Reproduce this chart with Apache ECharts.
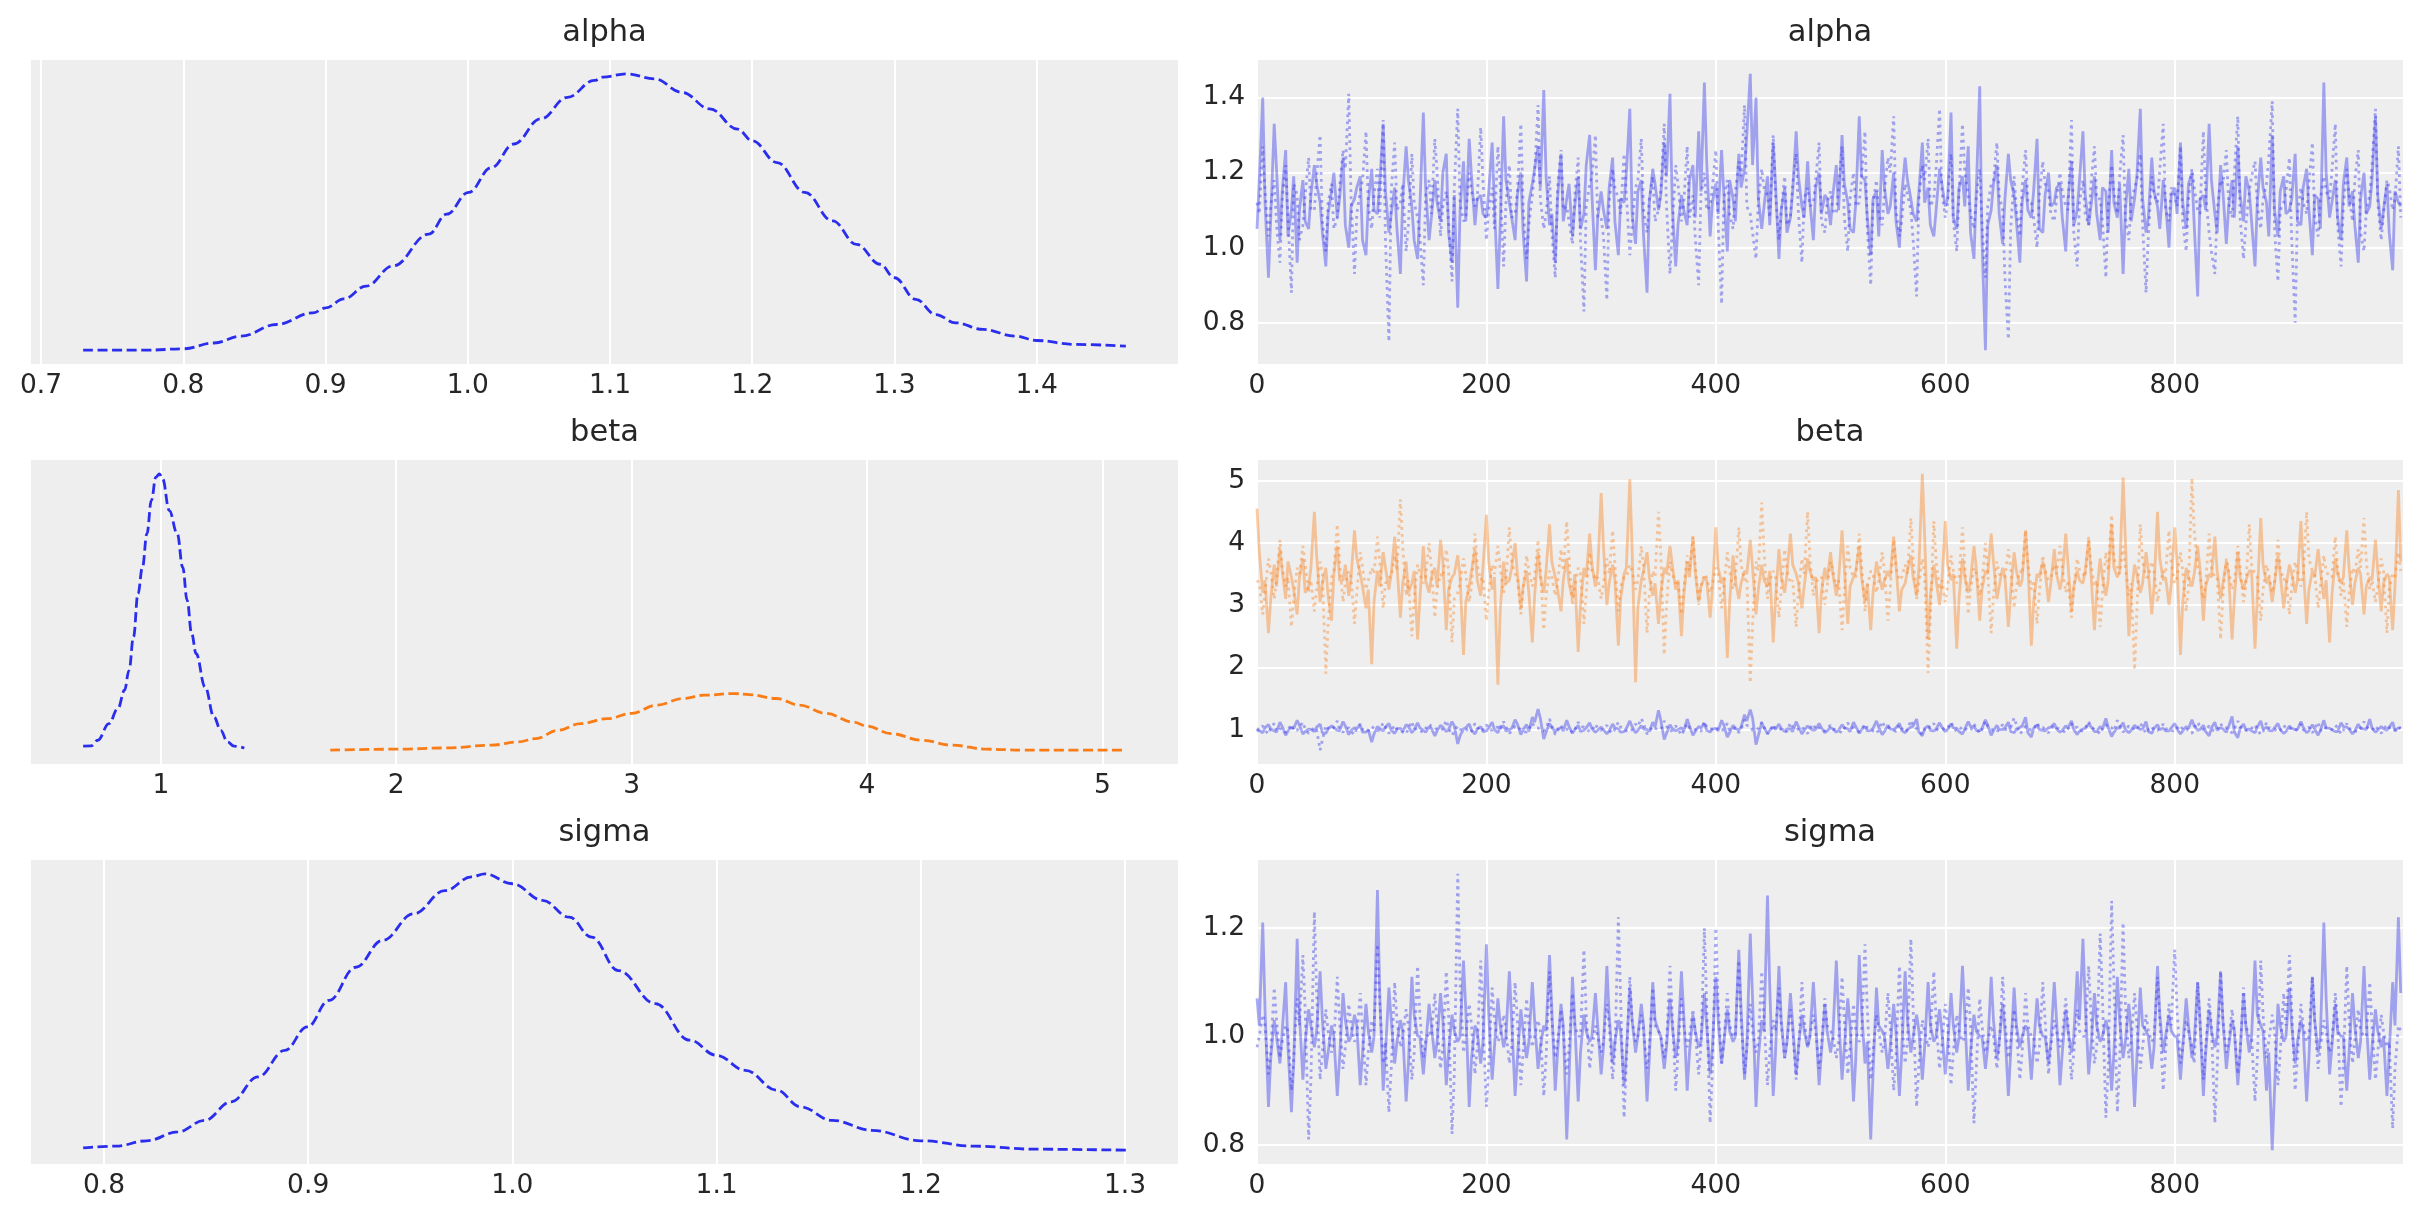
<!DOCTYPE html>
<html><head><meta charset="utf-8">
<script src="https://cdn.jsdelivr.net/npm/echarts@6/dist/echarts.min.js"></script>
<style>html,body{margin:0;padding:0;background:#fff}#c{width:2423px;height:1223px}</style>
</head><body><div id="c"></div>
<script>
// ---------- data ----------
const varNames = ['alpha', 'beta', 'sigma'];

// KDE curves (x = parameter value, y = density normalised to peak 1)
const alphaKdeX = [0.7296,0.7745,0.80,0.8217,0.8406,0.8657,0.8909,0.9003,0.9129,0.9286,0.9475,0.9726,0.9852,1.0006,1.0167,1.0324,1.0513,1.0701,1.089,1.095,1.1117,1.1312,1.1507,1.1702,1.1897,1.2,1.2175,1.237,1.2565,1.2733,1.29,1.30,1.315,1.329,1.343,1.3624,1.3847,1.40,1.4265,1.4627];
const alphaKdeY = [0,0,0.005,0.026,0.051,0.093,0.135,0.153,0.186,0.232,0.305,0.42,0.492,0.571,0.661,0.746,0.837,0.915,0.976,0.988,1.0,0.982,0.933,0.873,0.80,0.758,0.679,0.571,0.468,0.383,0.311,0.262,0.184,0.129,0.099,0.075,0.051,0.035,0.021,0.0145];

const beta0KdeX = [0.670,0.704,0.732,0.7797,0.8177,0.846,0.865,0.884,0.903,0.922,0.941,0.960,0.979,0.994,1.0076,1.036,1.070,1.093,1.112,1.131,1.150,1.188,1.226,1.2545,1.283,1.311,1.355];
const beta0KdeY = [0.0145,0.0157,0.036,0.096,0.151,0.217,0.289,0.41,0.566,0.662,0.783,0.904,0.988,1.0,0.982,0.867,0.783,0.662,0.542,0.422,0.349,0.229,0.12,0.072,0.03,0.0145,0.008];
const beta1KdeX = [1.72,2.0,2.2137,2.4036,2.5176,2.5935,2.688,2.7835,2.897,3.0,3.1064,3.22,3.307,3.437,3.50,3.615,3.713,3.826,3.94,4.0,4.102,4.232,4.362,4.508,4.67,5.10];
const beta1KdeY = [0,0.0036,0.008,0.018,0.03,0.042,0.072,0.096,0.114,0.133,0.163,0.187,0.199,0.205,0.201,0.187,0.163,0.133,0.102,0.087,0.06,0.036,0.018,0.0036,0,0];

const sigmaKdeX = [0.7898,0.8057,0.8209,0.8362,0.8492,0.8623,0.8754,0.8885,0.8996,0.9102,0.9233,0.9364,0.9516,0.9669,0.98,0.9865,1.0,1.0148,1.0279,1.0388,1.0519,1.07,1.0868,1.1,1.114,1.1295,1.141,1.1566,1.176,1.2,1.2264,1.2554,1.3004];
const sigmaKdeY = [0.0083,0.0145,0.034,0.066,0.108,0.175,0.265,0.361,0.446,0.542,0.662,0.759,0.855,0.939,0.989,1.0,0.964,0.904,0.843,0.771,0.65,0.53,0.398,0.343,0.289,0.217,0.157,0.108,0.072,0.034,0.0145,0.0036,0];

// Trace samples. "*ChainN" arrays hold draws 0,5,10,...; "*ChainNMid" hold draws 2,7,12,...
// chain 0 = solid line, chain 1 = dotted line
const drawStep = 5;
const midOffset = 2;
const nDraws = 1000;

const alphaChain0 = [
1.05,1.40,0.92,1.33,1.02,1.26,1.10,0.96,1.18,1.05,1.22,1.12,0.95,1.15,1.08,1.24,1.00,1.13,1.19,0.98,
1.21,1.09,1.33,1.04,1.16,0.93,1.27,1.11,0.97,1.36,1.02,1.18,1.07,1.25,0.96,0.84,1.23,1.29,1.06,1.14,
1.08,1.28,0.89,1.35,1.12,1.02,1.20,0.91,1.17,1.27,1.42,1.06,0.96,1.25,1.13,1.03,1.19,1.09,1.30,0.94,
1.15,1.05,1.24,0.98,1.12,1.37,1.01,1.18,0.88,1.21,1.10,1.28,1.41,0.95,1.14,1.06,1.22,1.31,1.44,1.03,
1.17,1.26,0.99,1.13,1.25,1.21,1.463,1.40,1.05,1.19,1.28,0.97,1.16,1.08,1.31,1.11,1.23,1.02,1.20,1.14,
1.06,1.22,1.30,1.12,1.04,1.35,1.18,0.98,1.15,1.26,1.09,1.20,1.00,1.24,1.13,1.07,1.28,1.16,1.03,1.21,
1.11,1.36,1.05,1.19,1.27,0.97,1.43,0.727,1.10,1.22,1.01,1.25,1.14,0.96,1.18,1.08,1.29,1.04,1.20,1.12,
1.17,0.99,1.23,1.10,1.31,1.06,1.19,1.02,1.15,1.26,1.08,0.93,1.21,1.13,1.37,1.04,1.24,1.11,1.18,1.00,
1.16,1.28,1.05,1.20,0.87,1.14,1.33,1.09,1.22,1.01,1.18,1.27,1.07,1.15,0.95,1.24,1.12,1.30,1.03,1.19,
1.10,1.25,1.06,1.21,0.98,1.13,1.44,1.08,1.18,1.02,1.24,1.15,0.96,1.20,1.11,1.35,1.05,1.17,0.94,1.12];
const alphaChain0Mid = [
1.18,1.12,1.08,1.21,1.15,1.03,1.19,1.10,1.07,1.14,1.17,1.04,1.09,1.20,1.13,1.06,1.11,1.16,1.02,1.12,
1.10,1.17,1.15,1.09,1.05,1.13,1.18,1.02,1.11,1.16,1.08,1.12,1.20,1.04,1.14,1.10,1.07,1.19,1.13,1.09,
1.15,1.11,1.06,1.18,1.08,1.14,1.04,1.12,1.21,1.16,1.19,1.09,1.13,1.07,1.17,1.11,1.05,1.22,1.14,1.08,
1.10,1.16,1.07,1.13,1.20,1.09,1.15,1.03,1.12,1.17,1.14,1.19,1.11,1.06,1.10,1.18,1.08,1.15,1.23,1.12,
1.09,1.14,1.18,1.07,1.16,1.30,1.22,1.13,1.11,1.06,1.17,1.10,1.04,1.15,1.19,1.08,1.12,1.16,1.09,1.13,
1.14,1.10,1.17,1.05,1.12,1.19,1.08,1.13,1.03,1.16,1.11,1.07,1.14,1.18,1.09,1.15,1.12,1.06,1.10,1.17,
1.13,1.08,1.16,1.11,1.04,1.15,1.02,1.06,1.17,1.09,1.13,1.18,1.07,1.12,1.10,1.15,1.05,1.14,1.11,1.16,
1.08,1.13,1.06,1.18,1.14,1.11,1.09,1.16,1.04,1.12,1.17,1.10,1.07,1.19,1.13,1.08,1.15,1.05,1.12,1.14,
1.09,1.12,1.17,1.06,1.13,1.10,1.18,1.04,1.15,1.11,1.08,1.14,1.19,1.07,1.12,1.16,1.03,1.10,1.15,1.09,
1.13,1.07,1.16,1.10,1.14,1.05,1.20,1.12,1.08,1.17,1.11,1.06,1.13,1.09,1.18,1.14,1.10,1.04,1.15,1.11];
const alphaChain1 = [
1.12,1.27,1.03,1.18,0.96,1.22,0.88,1.14,1.06,1.24,1.10,1.30,0.99,1.17,1.08,1.26,1.41,0.93,1.15,1.31,
1.05,1.21,1.34,0.75,1.28,1.12,0.99,1.25,1.08,0.90,1.18,1.29,1.03,1.15,0.91,1.37,1.07,1.20,1.11,1.32,
1.02,1.16,1.27,0.95,1.22,1.09,1.33,0.97,1.14,1.38,1.05,1.19,0.92,1.26,1.11,1.01,1.24,0.83,1.17,1.30,
1.08,0.86,1.21,1.13,1.25,0.98,1.16,1.29,1.04,1.19,1.10,1.33,0.93,1.22,1.07,1.27,1.14,0.90,1.20,1.11,
1.26,0.85,1.18,1.05,1.23,1.38,1.09,0.97,1.21,1.14,1.30,1.02,1.19,1.08,1.25,0.96,1.16,1.12,1.28,1.04,
1.15,1.09,1.27,0.99,1.20,1.12,1.31,0.90,1.18,1.06,1.24,1.35,1.03,1.17,1.10,0.87,1.22,1.29,1.13,1.37,
1.08,1.25,0.99,1.33,1.14,1.05,1.21,0.92,1.17,1.28,1.10,0.756,1.19,1.03,1.26,1.12,1.00,1.23,1.15,1.07,
1.20,1.11,1.34,0.95,1.18,1.06,1.27,1.13,0.92,1.22,1.09,1.30,1.02,1.16,1.25,0.88,1.19,1.12,1.33,1.07,
1.14,1.27,0.99,1.21,1.10,1.31,1.04,0.93,1.18,1.26,1.08,1.35,0.97,1.15,1.23,1.05,1.17,1.39,0.91,1.12,
1.24,0.80,1.16,1.09,1.28,1.03,1.19,1.13,1.33,0.95,1.21,1.07,1.26,0.99,1.14,1.37,1.02,1.18,1.10,1.27];
const alphaChain1Mid = [
1.09,1.15,1.11,1.06,1.13,1.08,1.17,1.02,1.14,1.10,1.19,1.07,1.12,1.05,1.16,1.21,1.13,1.09,1.18,1.11,
1.14,1.08,1.02,1.15,1.10,1.17,1.06,1.12,1.03,1.14,1.09,1.20,1.11,1.07,1.16,1.12,1.08,1.15,1.13,1.18,
1.10,1.05,1.17,1.12,1.08,1.15,1.11,1.06,1.20,1.13,1.09,1.04,1.16,1.10,1.07,1.14,1.02,1.11,1.19,1.08,
1.03,1.12,1.16,1.09,1.14,1.06,1.18,1.10,1.13,1.07,1.15,1.11,1.05,1.17,1.12,1.08,1.03,1.14,1.10,1.16,
1.06,1.13,1.09,1.15,1.19,1.11,1.04,1.12,1.16,1.08,1.14,1.10,1.06,1.17,1.09,1.13,1.11,1.18,1.07,1.12,
1.10,1.16,1.08,1.13,1.11,1.19,1.05,1.12,1.09,1.15,1.20,1.10,1.07,1.14,1.02,1.13,1.18,1.11,1.21,1.15,
1.12,1.07,1.15,1.20,1.09,1.13,1.06,1.11,1.18,1.14,0.92,1.05,1.10,1.16,1.12,1.08,1.14,1.17,1.09,1.13,
1.15,1.10,1.04,1.12,1.09,1.17,1.13,1.07,1.11,1.15,1.19,1.08,1.12,1.18,1.06,1.03,1.14,1.21,1.10,1.16,
1.11,1.07,1.13,1.16,1.09,1.14,0.99,1.10,1.17,1.12,1.20,1.08,1.06,1.19,1.11,1.13,1.24,1.05,1.10,1.15,
1.02,1.09,1.12,1.17,1.08,1.13,1.15,1.20,1.06,1.11,1.14,1.18,1.04,1.10,1.22,1.12,1.09,1.16,1.13,1.08];

const beta0Chain0 = [
1.02,0.95,1.08,0.98,1.12,0.91,1.04,1.15,0.93,1.01,0.97,1.09,0.94,1.06,0.99,1.13,0.92,1.03,1.07,0.96,
0.80,1.05,0.98,1.10,0.94,1.02,1.08,0.95,1.11,0.99,1.04,0.90,1.07,0.97,1.13,0.77,1.01,1.09,0.93,1.05,
0.98,1.12,0.95,1.06,1.00,1.16,0.92,1.08,1.20,1.33,0.85,1.10,0.97,1.03,1.15,0.94,1.07,0.99,1.11,0.96,
1.04,0.93,1.09,1.01,0.97,1.14,0.95,1.06,1.00,1.12,1.31,0.84,1.08,0.98,1.03,1.17,0.91,1.05,1.10,0.96,
1.02,1.15,0.88,1.07,0.99,1.24,1.32,0.76,1.11,0.94,1.04,1.09,0.97,1.01,1.13,0.93,1.06,0.99,1.10,0.95,
1.03,0.96,1.08,1.01,1.12,0.94,1.05,0.99,1.14,0.92,1.07,1.00,1.10,0.95,1.04,1.17,0.90,1.06,0.98,1.11,
0.97,1.09,1.02,0.93,1.13,1.05,0.98,1.16,0.91,1.07,1.00,1.12,0.95,1.04,1.20,0.88,1.08,0.99,1.03,1.10,
0.96,1.06,1.14,0.92,1.01,1.09,0.97,1.05,1.18,0.89,1.03,1.11,0.95,1.07,1.00,1.13,0.94,1.08,1.02,0.98,
1.10,0.93,1.05,1.16,0.99,1.07,0.90,1.12,1.03,0.96,1.21,0.87,1.09,1.01,0.95,1.14,1.04,0.98,1.10,0.94,
1.06,1.00,1.13,0.95,1.08,0.91,1.15,1.02,0.97,1.11,1.04,0.93,1.09,1.01,1.17,0.96,1.05,0.99,1.12,1.03];
const beta0Chain0Mid = [
0.99,1.03,1.01,0.96,1.05,0.98,1.02,1.07,0.97,1.00,1.04,0.95,1.01,1.03,0.98,1.06,0.99,1.02,0.96,1.00,
0.93,1.02,1.04,0.99,1.01,0.97,1.05,1.00,1.03,0.96,1.02,0.98,1.04,1.00,1.06,0.90,1.03,0.99,1.01,0.97,
1.03,1.00,1.05,0.98,1.02,1.09,1.00,0.97,1.12,1.18,0.96,1.03,1.01,0.98,1.05,1.00,0.97,1.03,1.01,0.99,
1.00,0.98,1.03,0.96,1.02,1.05,0.99,1.01,0.97,1.04,1.15,0.94,1.02,1.00,0.98,1.06,0.97,1.03,0.99,1.01,
0.98,1.07,0.95,1.02,1.04,1.14,1.19,0.90,1.03,0.99,1.00,1.02,1.01,0.97,1.05,0.99,1.02,1.00,1.03,0.98,
1.01,0.99,1.03,0.97,1.05,1.00,0.98,1.02,1.04,0.97,1.01,1.03,0.99,1.00,1.06,0.96,1.02,0.99,1.01,1.04,
1.00,1.03,0.97,1.01,1.05,0.99,1.02,1.07,0.98,1.00,1.03,0.97,1.01,1.06,0.95,1.02,1.00,0.98,1.04,1.01,
0.99,1.03,1.00,0.98,1.02,1.05,0.97,1.01,1.04,0.96,1.02,1.00,0.99,1.03,1.01,0.97,1.02,1.00,0.98,1.03,
1.01,0.98,1.02,1.06,1.00,0.97,1.03,0.99,1.01,1.05,0.96,1.02,1.00,0.98,1.04,1.01,0.99,1.03,1.00,0.97,
1.02,1.00,1.04,0.98,1.01,0.99,1.03,1.00,0.97,1.05,1.01,0.98,1.02,1.00,1.03,0.99,1.01,1.04,0.98,1.02];
const beta0Chain1 = [
0.97,1.06,0.93,1.10,1.01,0.95,1.08,0.99,1.12,0.94,1.04,0.67,1.07,1.00,1.14,0.96,1.03,0.92,1.09,1.02,
1.05,0.98,1.11,0.94,1.07,1.00,0.93,1.13,1.02,0.96,1.09,1.04,0.99,1.15,0.91,1.06,1.01,0.95,1.10,0.97,
1.08,0.99,1.04,1.13,0.94,1.06,1.01,0.96,1.11,1.03,0.98,1.17,0.92,1.07,1.00,0.95,1.12,1.04,0.97,1.09,
0.99,1.07,0.94,1.12,1.02,0.96,1.09,1.18,0.93,1.05,1.00,1.14,0.97,1.06,0.91,1.10,1.03,0.98,1.13,1.01,
1.04,0.97,1.10,1.01,0.95,1.16,1.06,0.99,1.12,0.93,1.08,1.02,0.96,1.11,1.00,1.05,0.94,1.09,1.03,0.98,
1.07,1.00,0.95,1.11,1.03,0.97,1.09,1.02,0.94,1.13,1.05,0.99,1.08,0.96,1.15,1.01,0.92,1.06,1.10,0.98,
1.03,1.12,0.97,1.05,1.00,1.09,0.94,1.14,1.02,0.96,1.08,1.01,1.19,0.93,1.06,0.99,1.11,1.04,0.95,1.07,
1.01,0.95,1.10,1.04,0.98,1.13,1.00,0.93,1.08,1.03,1.15,0.96,1.06,1.01,1.11,0.94,1.05,0.99,1.09,1.02,
0.97,1.07,1.02,0.94,1.12,1.00,1.06,0.97,1.10,1.03,0.95,1.14,1.04,0.98,1.08,0.92,1.11,1.01,0.96,1.07,
1.03,0.98,1.09,1.01,0.95,1.12,1.05,0.99,1.07,0.93,1.10,1.02,0.97,1.13,1.00,1.06,0.94,1.08,1.03,1.05];
const beta0Chain1Mid = [
1.01,0.99,1.03,0.97,1.02,1.00,0.98,1.04,1.01,0.97,1.00,0.83,1.02,1.04,0.99,1.01,0.97,1.03,1.00,0.98,
1.02,1.00,1.04,0.98,1.01,0.96,1.03,1.00,0.98,1.02,1.05,0.99,1.01,1.03,0.97,1.00,1.02,0.98,1.04,1.00,
1.01,1.03,0.99,1.05,0.98,1.02,0.97,1.01,1.04,0.99,1.02,1.06,0.98,1.00,1.03,0.99,1.05,1.01,0.98,1.02,
1.03,0.99,1.01,1.04,0.98,1.00,1.05,1.09,0.97,1.02,1.00,1.06,0.99,1.01,0.98,1.03,1.00,0.97,1.04,1.01,
1.00,1.02,0.98,1.03,1.01,1.07,0.99,1.02,1.04,0.98,1.01,1.00,0.97,1.03,1.01,0.99,1.02,1.00,0.98,1.03,
1.01,0.98,1.02,1.04,0.99,1.01,1.03,0.98,1.00,1.05,1.01,0.97,1.02,1.00,1.06,0.98,1.00,1.03,1.01,0.99,
1.02,1.04,0.99,1.01,0.98,1.03,1.00,1.05,0.98,1.02,1.00,1.03,1.08,0.97,1.02,1.00,1.04,0.99,1.01,1.03,
0.99,1.01,1.03,0.98,1.02,1.05,0.99,1.01,1.03,0.98,1.06,1.00,1.02,0.99,1.04,1.00,0.98,1.02,1.01,0.99,
1.02,1.00,0.98,1.03,1.05,0.99,1.01,1.00,1.03,0.98,1.01,1.04,0.99,1.02,1.00,0.97,1.03,1.01,0.99,1.02,
1.00,1.02,0.99,1.04,1.01,0.98,1.02,1.00,1.03,0.99,1.01,0.98,1.02,1.05,0.99,1.01,1.00,1.03,0.99,1.02];

const beta1Chain0 = [
4.55,3.20,2.55,3.65,3.90,3.10,3.45,2.85,3.75,3.30,4.50,3.05,3.60,2.75,3.95,3.40,3.15,4.20,3.50,2.95,
2.05,3.55,3.85,3.25,4.10,2.80,3.70,3.35,2.45,3.95,3.20,3.60,4.05,2.60,3.45,3.80,2.20,3.30,3.90,3.15,
4.45,3.25,1.72,3.70,3.40,4.00,2.95,3.55,2.40,3.85,3.20,4.30,3.45,2.90,3.75,3.10,2.25,3.60,4.15,3.30,
4.80,3.00,3.65,2.35,3.50,5.02,1.76,3.40,3.85,3.15,2.70,3.60,3.95,3.25,2.50,3.70,4.10,3.05,3.45,2.80,
4.25,3.35,2.15,3.80,3.10,3.55,4.05,2.85,3.65,3.30,2.40,3.90,3.20,4.15,3.50,2.95,3.75,3.40,2.55,3.60,
3.85,3.15,4.20,2.70,3.45,3.95,3.05,2.60,3.70,3.25,3.55,4.10,2.90,3.35,3.80,3.15,5.11,2.45,3.65,3.00,
4.35,3.40,2.30,3.75,3.20,3.95,2.75,3.55,4.15,3.10,3.60,2.65,3.85,3.30,4.20,2.35,3.50,3.70,3.05,3.90,
3.25,4.15,2.90,3.55,3.35,4.05,2.60,3.75,3.15,4.30,3.45,5.05,2.50,3.65,3.20,3.85,2.85,4.50,3.40,3.00,
4.25,2.20,3.60,3.30,3.95,2.75,3.50,4.10,3.10,3.70,2.45,3.85,3.25,3.55,2.30,4.40,3.35,3.05,3.80,2.95,
3.65,3.20,4.35,2.70,3.55,3.90,3.10,2.40,3.75,3.35,4.20,3.00,3.60,2.85,3.45,4.05,2.90,3.50,2.60,4.85];
const beta1Chain0Mid = [
3.85,3.40,3.10,3.30,3.55,3.70,3.25,3.45,3.20,3.60,3.80,3.35,3.15,3.50,3.40,3.65,3.45,3.75,3.30,3.25,
3.05,3.30,3.60,3.50,3.65,3.35,3.20,3.55,3.10,3.40,3.45,3.30,3.70,3.25,3.50,3.45,3.05,3.55,3.40,3.60,
3.70,3.45,2.90,3.35,3.60,3.50,3.30,3.20,3.15,3.45,3.55,3.70,3.25,3.40,3.35,3.50,3.00,3.45,3.65,3.55,
3.95,3.35,3.40,3.10,3.60,3.90,2.95,3.55,3.45,3.35,3.20,3.50,3.65,3.40,3.15,3.45,3.55,3.30,3.40,3.25,
3.60,3.45,3.05,3.40,3.35,3.50,3.60,3.25,3.40,3.55,3.10,3.45,3.50,3.65,3.35,3.30,3.55,3.45,3.20,3.40,
3.50,3.40,3.60,3.30,3.55,3.45,3.35,3.20,3.50,3.40,3.45,3.65,3.25,3.55,3.45,3.60,4.10,3.15,3.40,3.35,
3.65,3.50,3.10,3.45,3.40,3.60,3.25,3.50,3.70,3.30,3.45,3.20,3.55,3.40,3.65,3.05,3.45,3.55,3.35,3.50,
3.45,3.65,3.30,3.40,3.55,3.50,3.20,3.45,3.40,3.60,3.55,4.05,3.15,3.50,3.35,3.55,3.30,3.75,3.45,3.35,
3.70,3.05,3.45,3.50,3.60,3.30,3.45,3.55,3.35,3.50,3.10,3.45,3.40,3.55,3.15,3.65,3.45,3.35,3.50,3.30,
3.50,3.40,3.65,3.25,3.45,3.55,3.40,3.15,3.50,3.45,3.60,3.35,3.50,3.30,3.40,3.55,3.35,3.45,3.30,3.70];
const beta1Chain1 = [
3.40,2.85,3.75,3.10,4.05,3.30,2.65,3.60,3.95,3.20,2.90,3.70,1.90,3.45,4.30,3.05,3.55,2.70,3.85,3.25,
3.60,4.10,2.95,3.45,3.80,4.70,3.15,2.50,3.65,3.35,4.00,2.80,3.50,3.90,2.40,3.20,3.75,3.05,4.15,3.40,
2.75,3.65,3.95,3.20,4.25,3.50,2.85,3.80,3.30,4.05,2.60,3.55,3.15,3.90,4.35,3.00,3.60,2.70,3.85,3.40,
3.10,3.75,4.20,2.90,3.45,3.65,3.25,3.95,2.55,3.55,4.50,2.20,3.70,3.35,2.85,3.80,4.10,3.00,3.50,3.20,
3.60,2.95,3.85,3.25,4.25,3.40,1.75,3.70,4.65,3.10,3.55,2.80,3.90,3.35,2.65,3.75,4.50,3.15,3.45,3.00,
3.70,3.30,2.60,3.95,3.45,4.15,2.90,3.55,3.20,3.85,2.75,4.05,3.40,3.65,4.40,3.10,3.75,1.91,4.35,3.25,
3.05,3.80,3.35,4.25,2.85,3.60,3.15,4.00,2.55,3.70,3.45,3.90,2.95,3.55,4.20,3.25,2.70,3.80,3.40,3.65,
3.95,3.20,2.80,3.75,3.50,4.10,3.30,2.65,3.85,4.45,3.60,3.95,3.15,1.96,4.30,3.45,3.70,3.05,3.55,4.20,
3.35,3.85,2.90,5.04,3.60,3.10,4.15,3.45,2.45,3.75,3.25,3.95,3.05,4.30,3.50,2.75,3.65,3.20,4.05,3.40,
2.85,3.70,3.30,4.50,3.55,2.95,3.80,3.45,4.10,3.15,2.65,3.60,3.90,4.40,3.25,3.05,3.75,2.55,3.50,3.85];
const beta1Chain1Mid = [
3.35,3.20,3.55,3.40,3.60,3.45,3.10,3.50,3.65,3.40,3.25,3.50,2.70,3.55,3.70,3.35,3.45,3.20,3.60,3.40,
3.50,3.70,3.35,3.45,3.55,3.95,3.40,3.10,3.50,3.45,3.60,3.25,3.45,3.55,3.10,3.35,3.50,3.30,3.65,3.45,
3.20,3.50,3.60,3.40,3.70,3.45,3.25,3.55,3.45,3.60,3.15,3.45,3.35,3.55,3.75,3.30,3.50,3.20,3.55,3.45,
3.35,3.50,3.65,3.30,3.45,3.55,3.40,3.60,3.15,3.45,3.80,3.00,3.50,3.40,3.25,3.55,3.65,3.30,3.45,3.35,
3.50,3.30,3.55,3.40,3.65,3.45,2.70,3.55,3.85,3.40,3.45,3.25,3.55,3.40,3.20,3.50,3.75,3.35,3.45,3.30,
3.55,3.40,3.20,3.60,3.45,3.65,3.30,3.50,3.40,3.55,3.25,3.60,3.45,3.50,3.75,3.35,3.50,2.80,3.70,3.40,
3.30,3.55,3.45,3.65,3.25,3.50,3.35,3.55,3.15,3.50,3.45,3.60,3.30,3.50,3.65,3.40,3.20,3.55,3.45,3.50,
3.60,3.40,3.25,3.55,3.45,3.65,3.40,3.20,3.55,3.75,3.50,3.60,3.35,2.90,3.70,3.45,3.55,3.30,3.50,3.65,
3.45,3.55,3.30,4.20,3.50,3.35,3.60,3.45,3.15,3.55,3.40,3.60,3.30,3.65,3.45,3.25,3.50,3.35,3.60,3.45,
3.30,3.55,3.45,3.75,3.50,3.30,3.55,3.45,3.60,3.40,3.20,3.50,3.60,3.70,3.40,3.30,3.55,3.25,3.45,3.55];

const sigmaChain0 = [
1.07,1.21,0.87,1.03,0.95,1.10,0.86,1.18,0.92,1.05,0.98,1.12,0.94,1.02,0.89,1.08,0.99,1.04,0.91,1.06,
0.97,1.27,0.90,1.09,0.95,1.03,0.88,1.11,1.00,0.93,1.06,0.96,1.08,0.91,1.04,0.99,1.14,0.87,1.02,0.95,
1.17,0.92,1.07,0.98,1.12,0.89,1.05,0.96,1.10,0.94,1.02,1.15,0.90,1.06,0.81,1.11,0.88,1.04,0.99,1.08,
0.93,1.13,0.95,1.03,0.91,1.09,0.97,1.06,0.88,1.10,1.01,0.94,1.07,0.96,1.12,0.90,1.04,0.98,1.08,0.93,
1.11,0.95,1.05,0.99,1.16,0.92,1.19,0.87,1.03,1.26,0.89,1.13,0.96,1.08,0.93,1.04,0.98,1.10,0.91,1.06,
0.97,1.14,0.92,1.07,0.88,1.15,0.95,0.81,1.09,1.01,0.94,1.06,0.89,1.12,0.97,1.04,0.92,1.10,0.99,1.05,
0.93,1.08,0.97,1.13,0.90,1.04,1.00,0.94,1.11,0.96,1.06,0.89,1.09,0.98,1.02,0.92,1.07,1.00,0.95,1.10,
0.91,1.05,0.97,1.12,1.18,0.93,1.08,0.99,1.03,0.90,1.11,0.96,1.06,0.87,1.09,1.01,0.94,1.13,0.97,1.04,
1.00,0.92,1.07,0.96,1.10,0.89,1.05,0.98,1.12,0.94,1.03,0.91,1.08,0.97,1.14,1.02,0.90,0.79,1.06,0.99,
1.09,0.95,1.03,0.88,1.11,0.97,1.21,0.93,1.06,1.00,0.90,1.08,0.96,1.13,0.92,1.05,0.98,0.89,1.10,1.22];
const sigmaChain0Mid = [
1.02,1.05,0.96,1.00,1.01,0.98,0.95,1.04,0.99,1.02,1.01,1.03,0.97,1.00,0.96,1.03,1.00,1.02,0.97,1.01,
1.00,1.08,0.97,1.03,0.99,1.01,0.95,1.04,1.00,0.98,1.02,0.99,1.03,0.97,1.01,1.00,1.05,0.96,1.01,0.99,
1.04,0.98,1.02,1.00,1.03,0.96,1.01,0.99,1.03,0.98,1.01,1.05,0.97,1.02,0.92,1.03,0.97,1.01,1.00,1.02,
0.98,1.04,0.99,1.01,0.97,1.03,1.00,1.02,0.96,1.03,1.00,0.98,1.02,0.99,1.04,0.97,1.01,0.99,1.02,0.98,
1.03,0.99,1.01,1.00,1.05,0.98,1.07,0.96,1.01,1.09,0.97,1.03,0.99,1.02,0.98,1.01,1.00,1.03,0.97,1.01,
1.00,1.04,0.98,1.02,0.96,1.05,0.99,0.93,1.02,1.00,0.98,1.01,0.97,1.03,1.00,1.01,0.98,1.02,1.00,1.01,
0.98,1.02,1.00,1.04,0.97,1.01,1.00,0.98,1.03,0.99,1.01,0.97,1.02,1.00,1.01,0.98,1.02,1.00,0.99,1.03,
0.97,1.01,1.00,1.03,1.06,0.98,1.02,1.00,1.01,0.97,1.03,0.99,1.01,0.96,1.02,1.00,0.98,1.04,1.00,1.01,
1.00,0.98,1.02,0.99,1.03,0.97,1.01,1.00,1.03,0.98,1.01,0.97,1.02,1.00,1.04,1.01,0.97,0.90,1.02,1.00,
1.02,0.99,1.01,0.96,1.03,1.00,1.07,0.98,1.01,1.00,0.97,1.02,0.99,1.03,0.98,1.01,1.00,0.97,1.02,1.08];
const sigmaChain1 = [
0.98,1.04,0.93,1.09,0.96,1.02,0.90,1.07,1.15,0.81,1.23,0.92,1.05,0.97,1.11,0.94,1.06,0.99,1.08,0.91,
1.03,1.17,0.95,0.86,1.10,0.98,1.05,0.92,1.13,0.96,1.01,1.08,0.94,1.12,0.82,1.30,0.97,1.06,0.93,1.14,
0.87,1.09,0.99,1.04,0.95,1.10,0.91,1.07,0.98,1.03,0.89,1.12,0.96,1.05,0.93,1.08,1.00,1.16,0.94,1.02,
0.97,1.06,0.92,1.22,0.85,1.11,0.99,1.04,0.94,1.09,1.01,0.96,1.13,0.90,1.07,0.98,1.05,0.93,1.20,0.84,
1.20,0.95,1.08,1.00,1.14,0.93,1.06,0.97,1.12,0.91,1.03,1.09,0.96,1.05,0.92,1.10,0.98,1.04,0.94,1.07,
1.01,0.96,1.11,0.93,1.06,0.99,1.17,0.92,1.04,0.97,1.08,0.90,1.13,0.95,1.18,0.87,1.03,0.98,1.12,0.94,
1.06,0.91,1.04,0.99,1.09,0.84,1.07,0.97,1.02,0.94,1.11,0.96,1.05,0.92,1.08,1.00,0.95,1.10,0.93,1.03,
0.98,1.07,0.92,1.05,1.00,1.13,0.95,1.19,0.85,1.25,0.86,1.21,0.96,1.08,0.94,1.04,0.99,1.11,0.90,1.06,
1.16,0.95,1.03,0.98,1.10,0.92,1.07,0.84,1.12,0.97,1.05,0.93,1.09,1.00,0.88,1.14,0.96,1.04,0.91,1.08,
1.15,0.90,1.06,0.99,1.11,0.94,1.03,0.97,1.08,0.87,1.13,0.95,1.05,1.00,1.10,0.92,1.04,0.98,0.83,1.02];
const sigmaChain1Mid = [
1.00,1.02,0.97,1.03,0.99,1.01,0.96,1.02,1.05,0.92,1.08,0.97,1.01,0.99,1.03,0.98,1.02,1.00,1.01,0.97,
1.01,1.06,0.99,0.94,1.03,1.00,1.02,0.97,1.04,0.99,1.00,1.02,0.98,1.04,0.93,1.10,1.00,1.02,0.98,1.03,
0.95,1.03,1.00,1.01,0.98,1.03,0.97,1.02,1.00,1.01,0.96,1.03,0.99,1.01,0.98,1.02,1.00,1.04,0.98,1.00,
0.99,1.02,0.97,1.07,0.95,1.03,1.00,1.01,0.98,1.02,1.00,0.99,1.04,0.97,1.02,1.00,1.01,0.98,1.06,0.94,
1.06,0.99,1.02,1.00,1.03,0.98,1.01,0.99,1.03,0.97,1.01,1.02,0.99,1.01,0.97,1.03,1.00,1.01,0.98,1.02,
1.00,0.99,1.03,0.98,1.01,1.00,1.05,0.97,1.01,0.99,1.02,0.96,1.03,0.99,1.05,0.95,1.01,1.00,1.03,0.98,
1.02,0.97,1.01,1.00,1.02,0.94,1.02,0.99,1.00,0.98,1.03,0.99,1.01,0.97,1.02,1.00,0.98,1.03,0.98,1.01,
1.00,1.02,0.97,1.01,1.00,1.04,0.98,1.07,0.94,1.10,0.95,1.06,0.99,1.02,0.98,1.01,1.00,1.03,0.97,1.02,
1.05,0.98,1.01,0.95,1.03,0.98,1.02,0.94,1.03,0.99,1.01,0.97,1.02,1.00,0.96,1.04,0.99,1.01,0.97,1.02,
1.05,0.96,1.02,1.00,1.03,0.98,1.01,0.99,1.02,0.95,1.03,0.99,1.01,1.00,1.02,0.97,1.01,0.99,0.94,1.01];

// tick labels
const alphaKdeTicks = [0.7,0.8,0.9,1.0,1.1,1.2,1.3,1.4];
const betaKdeTicks = [1,2,3,4,5];
const sigmaKdeTicks = [0.8,0.9,1.0,1.1,1.2,1.3];
const drawTicks = [0,200,400,600,800];
const alphaTraceTicks = [0.8,1.0,1.2,1.4];
const betaTraceTicks = [1,2,3,4,5];
const sigmaTraceTicks = [0.8,1.0,1.2];

// ---------- styling / layout ----------
const FONT = 'DejaVu Sans';
const TXT = '#262626';
const BLUE = '#2a2eec', ORANGE = '#fa7c17';
const BG = '#eeeeee';
const LEFT_X = 31, LEFT_W = 1147, RIGHT_X = 1257, RIGHT_W = 1146;
const ROW_TOP = [60, 460, 860], ROW_H = 304;
const TICK_FS = 26.5, TITLE_FS = 30.5;

function padRange(arrs) {
  let mn = Infinity, mx = -Infinity;
  arrs.forEach(a => a.forEach(v => { if (v < mn) mn = v; if (v > mx) mx = v; }));
  const r = mx - mn;
  return [mn - 0.05 * r, mx + 0.05 * r];
}
const fmt1 = v => Number(v).toFixed(1);
const fmt0 = v => String(Math.round(v));

const grids = [], xAxes = [], yAxes = [], series = [], graphics = [];

function addPanel(idx, left, width, top, xr, yr, xTicks, xFmt, yTicks, yFmt) {
  grids.push({ left: left, top: top, width: width, height: ROW_H, show: true,
    backgroundColor: BG, borderWidth: 0, containLabel: false, outerBoundsMode: 'none' });
  xAxes.push({ type: 'value', gridIndex: idx, min: xr[0], max: xr[1],
    axisLine: { show: false },
    axisTick: { show: false, customValues: xTicks },
    axisLabel: { customValues: xTicks, formatter: xFmt, fontSize: TICK_FS, fontFamily: FONT, color: TXT, margin: 9 },
    splitLine: { show: true, lineStyle: { color: '#ffffff', width: 2 } } });
  if (yTicks) {
    yAxes.push({ type: 'value', gridIndex: idx, min: yr[0], max: yr[1],
      axisLine: { show: false },
      axisTick: { show: false, customValues: yTicks },
      axisLabel: { customValues: yTicks, formatter: yFmt, fontSize: TICK_FS, fontFamily: FONT, color: TXT, margin: 12 },
      splitLine: { show: true, lineStyle: { color: '#ffffff', width: 2 } } });
  } else {
    yAxes.push({ type: 'value', gridIndex: idx, min: yr[0], max: yr[1],
      axisLine: { show: false }, axisTick: { show: false }, axisLabel: { show: false },
      splitLine: { show: false } });
  }
}

function kdeSeries(idx, xs, ys, color) {
  series.push({ type: 'line', xAxisIndex: idx, yAxisIndex: idx, symbol: 'none', silent: true,
    smooth: 0.4, smoothMonotone: 'x',
    data: xs.map((x, i) => [x, ys[i]]),
    lineStyle: { color: color, width: 2.8, type: [10, 4.5], cap: 'butt' } });
}
// merge the draws at i*5 and i*5+2 into one chronological chain
function chainData(main, mid) {
  const out = [];
  main.forEach((v, i) => {
    out.push([i * drawStep, v]);
    out.push([i * drawStep + midOffset, mid[i]]);
  });
  return out;
}
function traceSeries(idx, main, mid, color, dotted) {
  series.push({ type: 'line', xAxisIndex: idx, yAxisIndex: idx, symbol: 'none', silent: true,
    data: chainData(main, mid),
    lineStyle: { color: color, width: 2.8, opacity: 0.4, type: dotted ? [2.8, 4.2] : 'solid', cap: 'butt' } });
}

const traceX = [0, nDraws - 1];

// row 0: alpha
addPanel(0, LEFT_X, LEFT_W, ROW_TOP[0], padRange([alphaKdeX]), padRange([alphaKdeY]), alphaKdeTicks, fmt1, null, null);
kdeSeries(0, alphaKdeX, alphaKdeY, BLUE);
addPanel(1, RIGHT_X, RIGHT_W, ROW_TOP[0], traceX, padRange([alphaChain0, alphaChain1, alphaChain0Mid, alphaChain1Mid]), drawTicks, fmt0, alphaTraceTicks, fmt1);
traceSeries(1, alphaChain0, alphaChain0Mid, BLUE, false);
traceSeries(1, alphaChain1, alphaChain1Mid, BLUE, true);

// row 1: beta
addPanel(2, LEFT_X, LEFT_W, ROW_TOP[1], padRange([beta0KdeX, beta1KdeX]), padRange([beta0KdeY, beta1KdeY]), betaKdeTicks, fmt0, null, null);
kdeSeries(2, beta0KdeX, beta0KdeY, BLUE);
kdeSeries(2, beta1KdeX, beta1KdeY, ORANGE);
addPanel(3, RIGHT_X, RIGHT_W, ROW_TOP[1], traceX, padRange([beta0Chain0, beta0Chain1, beta1Chain0, beta1Chain1]), drawTicks, fmt0, betaTraceTicks, fmt0);
traceSeries(3, beta0Chain0, beta0Chain0Mid, BLUE, false);
traceSeries(3, beta0Chain1, beta0Chain1Mid, BLUE, true);
traceSeries(3, beta1Chain0, beta1Chain0Mid, ORANGE, false);
traceSeries(3, beta1Chain1, beta1Chain1Mid, ORANGE, true);

// row 2: sigma
addPanel(4, LEFT_X, LEFT_W, ROW_TOP[2], padRange([sigmaKdeX]), padRange([sigmaKdeY]), sigmaKdeTicks, fmt1, null, null);
kdeSeries(4, sigmaKdeX, sigmaKdeY, BLUE);
addPanel(5, RIGHT_X, RIGHT_W, ROW_TOP[2], traceX, padRange([sigmaChain0, sigmaChain1]), drawTicks, fmt0, sigmaTraceTicks, fmt1);
traceSeries(5, sigmaChain0, sigmaChain0Mid, BLUE, false);
traceSeries(5, sigmaChain1, sigmaChain1Mid, BLUE, true);

// panel titles
varNames.forEach((name, r) => {
  [LEFT_X + LEFT_W / 2, RIGHT_X + RIGHT_W / 2].forEach(cx => {
    graphics.push({ type: 'text', x: cx, y: ROW_TOP[r] - 27, silent: true,
      style: { text: name, align: 'center', verticalAlign: 'middle',
        fontSize: TITLE_FS, fontFamily: FONT, fill: TXT } });
  });
});

const chart = echarts.init(document.getElementById('c'), null, { renderer: 'canvas', width: 2423, height: 1223 });
chart.setOption({
  backgroundColor: '#ffffff',
  animation: false,
  grid: grids, xAxis: xAxes, yAxis: yAxes, series: series,
  graphic: graphics
});
</script>
</body></html>
